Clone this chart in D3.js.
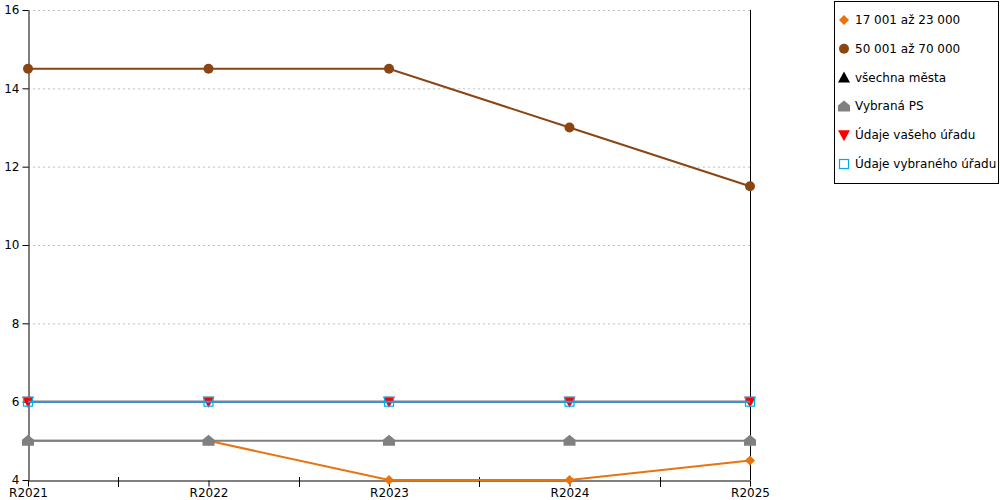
<!DOCTYPE html>
<html><head><meta charset="utf-8">
<script src="https://cdn.jsdelivr.net/npm/d3@7/dist/d3.min.js"></script>
<style>body{margin:0;background:#fff}svg{display:block;font-family:Verdana,"DejaVu Sans",sans-serif}</style>
</head><body><svg id="c" width="1000" height="500"></svg>
<script>
const categories = ["R2021","R2022","R2023","R2024","R2025"];
const yTicks = [4,6,8,10,12,14,16];
const s17 = [5,5,4,4,4.5];
const s50 = [14.5,14.5,14.5,13,11.5];
const sAll = [];
const sPS = [5,5,5,5,5];
const sVas = [6,6,6,6,6];
const sVyb = [6,6,6,6,6];
const seriesNames = ["17 001 až 23 000","50 001 až 70 000","všechna města","Vybraná PS","Údaje vašeho úřadu","Údaje vybraného úřadu"];

const series = [
  {name:seriesNames[0], data:s17, color:"#E8730F", shape:"diamond"},
  {name:seriesNames[1], data:s50, color:"#8B4513", shape:"circle"},
  {name:seriesNames[2], data:sAll, color:"#000000", shape:"triangle"},
  {name:seriesNames[3], data:sPS, color:"#808080", shape:"house"},
  {name:seriesNames[4], data:sVas, color:"#FF0000", shape:"down"},
  {name:seriesNames[5], data:sVyb, color:"#00AEEF", shape:"square"}
];

const svg = d3.select("#c");
const L=28, R=750, T=10, B=480;
const x = d3.scalePoint().domain(categories).range([L,R]);
const y = d3.scaleLinear().domain([4,16]).range([B,T]);

// grid
svg.append("g").selectAll("line").data(yTicks.filter(v=>v>4)).join("line")
  .attr("x1",L).attr("x2",R).attr("y1",d=>y(d)+0.5).attr("y2",d=>y(d)+0.5)
  .attr("stroke","#c0c0c0").attr("stroke-dasharray","2,3");

// y axis
const ya = svg.append("g").attr("transform",`translate(${L+0.5},0)`)
  .call(d3.axisLeft(y).tickValues(yTicks).tickSize(6).tickPadding(3).tickSizeOuter(0));
ya.select(".domain").attr("stroke","#000");
ya.selectAll("text").attr("font-size",12).attr("fill","#000").attr("font-family","Verdana,'DejaVu Sans',sans-serif");
// right line
svg.append("line").attr("x1",R+0.5).attr("x2",R+0.5).attr("y1",T).attr("y2",B).attr("stroke","#000");

// x axis
const xa = svg.append("g").attr("transform",`translate(0,${B+0.5})`)
  .call(d3.axisBottom(x).tickSize(6).tickPadding(2).tickSizeOuter(0));
xa.select(".domain").attr("stroke","#000");
xa.selectAll("text").attr("font-size",12).attr("fill","#000").attr("font-family","Verdana,'DejaVu Sans',sans-serif");
// minor ticks between categories
const mids = categories.slice(1).map((c,i)=>(x(categories[i])+x(c))/2);
svg.append("g").selectAll("line").data(mids).join("line")
  .attr("x1",d=>Math.round(d)+0.5).attr("x2",d=>Math.round(d)+0.5).attr("y1",B-3).attr("y2",B+7).attr("stroke","#000");

function marker(g, shape, color, cx, cy){
  if(shape==="diamond") g.append("path").attr("d",`M${cx},${cy-5}L${cx+5},${cy}L${cx},${cy+5}L${cx-5},${cy}Z`).attr("fill",color);
  else if(shape==="circle") g.append("circle").attr("cx",cx).attr("cy",cy).attr("r",5).attr("fill",color);
  else if(shape==="triangle") g.append("path").attr("d",`M${cx},${cy-6}L${cx+6},${cy+5}L${cx-6},${cy+5}Z`).attr("fill",color);
  else if(shape==="house") g.append("path").attr("d",`M${cx},${cy-6}L${cx+6},${cy-1}L${cx+6},${cy+5}L${cx-6},${cy+5}L${cx-6},${cy-1}Z`).attr("fill",color);
  else if(shape==="down") g.append("path").attr("d",`M${cx-6},${cy-5}L${cx+6},${cy-5}L${cx},${cy+6}Z`).attr("fill",color);
  else if(shape==="square") g.append("rect").attr("x",cx-4.5).attr("y",cy-4.5).attr("width",9).attr("height",9).attr("fill","none").attr("stroke",color).attr("stroke-width",1.2);
}

const line = d3.line().x((d,i)=>x(categories[i])).y(d=>y(d));
const plot = svg.append("g");
series.forEach(s=>{
  if(!s.data.length) return;
  const g = plot.append("g");
  g.append("path").attr("d",line(s.data)).attr("fill","none").attr("stroke",s.color).attr("stroke-width",2);
  s.data.forEach((v,i)=>marker(g,s.shape,s.color,x(categories[i]),y(v)));
});

// legend
const lg = svg.append("g");
lg.append("rect").attr("x",834.5).attr("y",1.5).attr("width",164).attr("height",182).attr("fill","#fff").attr("stroke","#000");
series.forEach((s,i)=>{
  const cy = 20 + i*28.8;
  marker(lg, s.shape, s.color, 844, cy);
  lg.append("text").attr("x",855).attr("y",cy+4).attr("font-size",12).attr("fill","#000").text(s.name);
});
</script></body></html>
